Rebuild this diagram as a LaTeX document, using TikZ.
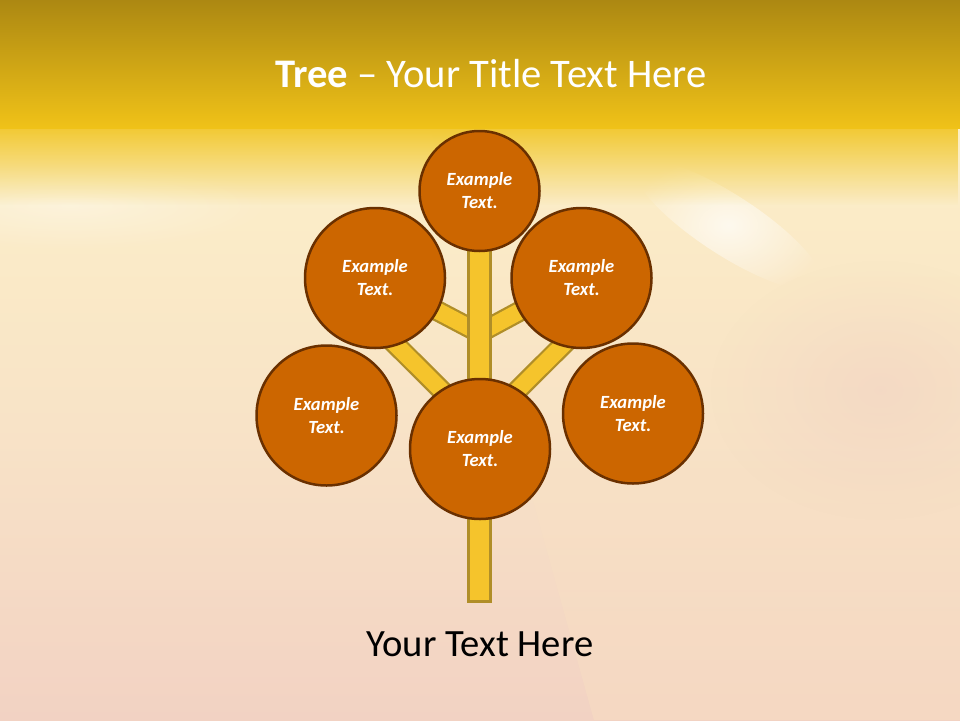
\documentclass[tikz,border=0pt]{standalone}
\usepackage{fontspec}
\setmainfont{Carlito}
\usetikzlibrary{fadings}
\definecolor{circfill}{HTML}{CC6600}
\definecolor{circline}{HTML}{6A3000}
\definecolor{trunkfill}{HTML}{F5C42C}
\definecolor{trunkline}{HTML}{B08E28}
\definecolor{bandtop}{HTML}{AC8812}
\definecolor{bandbot}{HTML}{F0C218}
\definecolor{creamtop}{HTML}{FCF0C8}
\definecolor{creammid}{HTML}{F8E3C7}
\definecolor{peachbot}{HTML}{F2D2C3}
\definecolor{pinkish}{HTML}{EFCDC2}
\definecolor{lightyel}{HTML}{FBE4C2}
\tikzfading[name=fadeup, top color=transparent!100, bottom color=transparent!0]
\tikzfading[name=fadedown, top color=transparent!0, bottom color=transparent!100]
\tikzfading[name=softglow, inner color=transparent!0, outer color=transparent!100]
\tikzset{
  leaf/.style={circle, draw=circline, line width=2.5pt, fill=circfill, text=white,
    inner sep=0pt, align=center,
    font=\fontsize{18.6}{23}\selectfont\bfseries\itshape},
  bigleaf/.style={leaf, minimum size=140pt},
  smallleaf/.style={leaf, minimum size=120pt},
  branchout/.style={draw=trunkline, line width=21pt},
  branchin/.style={draw=trunkfill, line width=16.5pt},
  trunkstyle/.style={draw=trunkline, fill=trunkfill, line width=2.5pt},
  titlestyle/.style={text=white, anchor=base, inner sep=0pt, font=\fontsize{40.6}{48}\selectfont},
  bodystyle/.style={text=black, anchor=base, inner sep=0pt, font=\fontsize{38.6}{46}\selectfont}
}
\begin{document}
\begin{tikzpicture}[x=1pt,y=1pt]
\useasboundingbox (0,0) rectangle (960,-720);
% background
\shade[top color=creamtop, bottom color=peachbot, middle color=creammid] (0,-128) rectangle (960,-720);
\fill[lightyel, opacity=0.35, path fading=fadeup] (430,-128) -- (594,-720) -- (960,-720) -- (960,-128) -- cycle;
\fill[pinkish, opacity=0.45, path fading=softglow] (880,-390) ellipse (170 and 130);
\begin{scope}[shift={(728,-225)}, rotate=-33]
  \fill[white, opacity=0.7, path fading=softglow] (0,0) ellipse (110 and 30);
\end{scope}
\fill[white, opacity=0.35, path fading=softglow] (70,-205) ellipse (200 and 45);
\fill[bandbot, opacity=0.85, path fading=fadedown] (0,-127) rectangle (960,-205);
\shade[top color=bandtop, bottom color=bandbot] (0,0) rectangle (960,-128);
% title
\node[titlestyle] (title) at (491,-87) {\textbf{Tree} – Your Title Text Here};
% tree skeleton
\coordinate (ju) at (479.5,-333);
\coordinate (jl) at (479.5,-428);
\coordinate (el) at (383,-332);
\coordinate (er) at (576,-332);
\coordinate (ttop) at (479.5,-240);
% circle positions
\coordinate (p0) at (479.5,-191);
\coordinate (p1) at (375,-278);
\coordinate (p2) at (581.5,-278);
\coordinate (p3) at (326.5,-415.5);
\coordinate (p4) at (480,-449);
\coordinate (p5) at (633,-413.5);
% branches
\draw[branchout] (ju) -- (p1);
\draw[branchin] (ju) -- (p1);
\draw[branchout] (ju) -- (p2);
\draw[branchin] (ju) -- (p2);
\draw[branchout] (jl) -- (el);
\draw[branchin] (jl) -- (el);
\draw[branchout] (jl) -- (er);
\draw[branchin] (jl) -- (er);
% trunk
\node[trunkstyle, minimum width=22pt, minimum height=360pt, inner sep=0pt, anchor=north] (trunk) at (ttop) {};
% leaves
\node[smallleaf] (c0) at (p0) {Example\\Text.};
\node[bigleaf] (c1) at (p1) {Example\\Text.};
\node[bigleaf] (c2) at (p2) {Example\\Text.};
\node[bigleaf] (c3) at (p3) {Example\\Text.};
\node[bigleaf] (c4) at (p4) {Example\\Text.};
\node[bigleaf] (c5) at (p5) {Example\\Text.};
% bottom text
\node[bodystyle] (body) at (480,-656) {Your Text Here};
\end{tikzpicture}
\end{document}
